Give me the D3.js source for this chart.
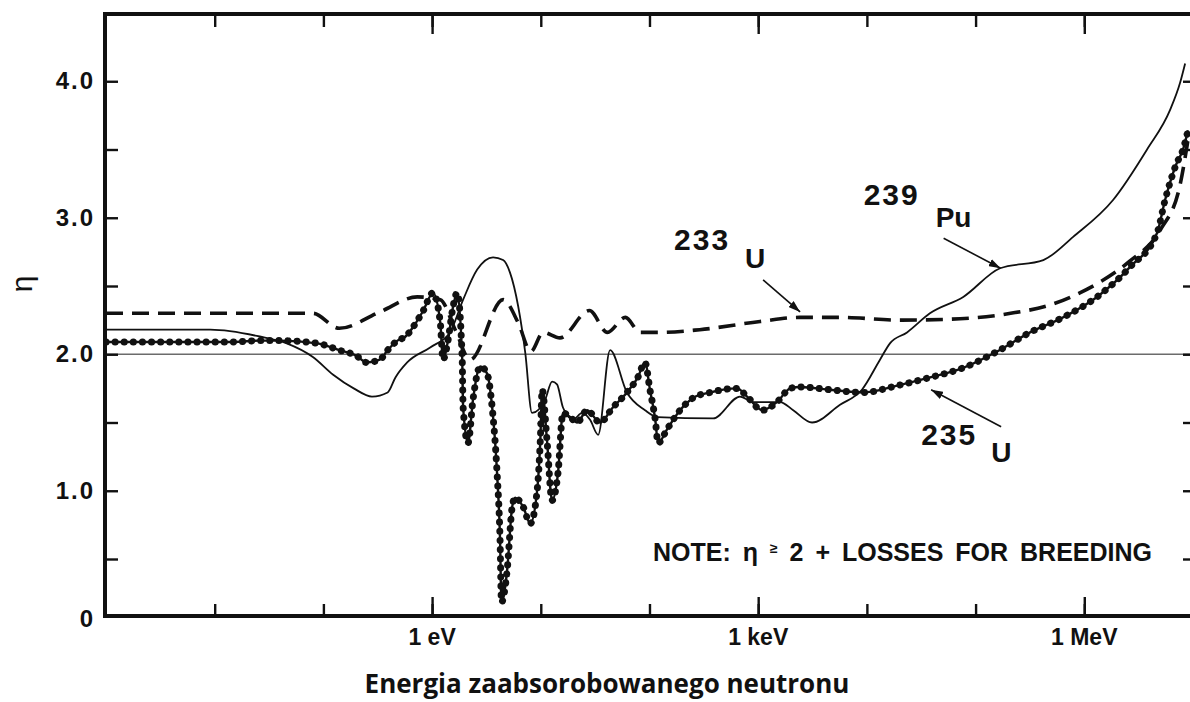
<!DOCTYPE html>
<html>
<head>
<meta charset="utf-8">
<script src="https://cdn.jsdelivr.net/npm/d3@7"></script>
<style>
    body { margin: 0; background: #fff; }
    svg { display: block; }
    .lbl { font-family: "Liberation Sans", Arial, sans-serif; fill: #111; }
</style>
</head>
<body>
<svg id="chart" width="1190" height="702"></svg>
<script>
// energy of the absorbed neutron (eV) and eta
let u233Energy = [0.001, 0.08, 0.14, 0.33, 0.73, 1.19, 1.63, 2.24, 4.5, 6.2, 8.1, 10.5, 15, 28, 41, 60, 82, 125, 290,
    1040, 2400, 5700, 20000, 72000, 2.1e5, 4.8e5, 9.1e5, 1.4e6, 2.6e6, 5.0e6, 7.6e6, 9.0e6];
let u233Eta = [2.30, 2.30, 2.19, 2.31, 2.42, 2.40, 2.18, 1.96, 2.40, 2.23, 2.02, 2.16, 2.12, 2.32, 2.16, 2.27, 2.16, 2.16, 2.18,
    2.24, 2.27, 2.27, 2.25, 2.26, 2.30, 2.36, 2.45, 2.53, 2.68, 2.91, 3.24, 3.57];

let pu239Energy = [0.001, 0.0091, 0.026, 0.046, 0.080, 0.123, 0.19, 0.28, 0.39, 0.46, 0.59, 0.96, 1.46, 1.93, 2.6, 3.64,
    4.5, 5.2, 6.2, 7.2, 8.3, 11.0, 12.7, 14.1, 16.0, 19.8, 24, 28.4, 33.7, 43.4, 62, 91, 118, 385, 680, 900, 1590, 2100,
    3130, 5660, 9000, 13200, 16300, 23400, 38000, 77000, 1.68e5, 4.2e5, 7.9e5, 1.84e6, 3.78e6, 6.16e6, 7.62e6, 8.47e6];
let pu239Eta = [2.18, 2.18, 2.13, 2.08, 1.98, 1.85, 1.75, 1.69, 1.72, 1.83, 1.94, 2.05, 2.16, 2.40, 2.62, 2.71,
    2.69, 2.60, 2.35, 2.01, 1.57, 1.67, 1.80, 1.78, 1.61, 1.52, 1.57, 1.52, 1.41, 2.03, 1.72, 1.59, 1.54, 1.53, 1.69, 1.65, 1.65, 1.59,
    1.50, 1.63, 1.74, 1.96, 2.08, 2.16, 2.30, 2.42, 2.63, 2.69, 2.86, 3.13, 3.50, 3.79, 3.99, 4.13];

let u235Energy = [0.001, 0.0148, 0.026, 0.040, 0.088, 0.14, 0.20, 0.25, 0.33, 0.39, 0.48, 0.57, 0.67, 0.83, 1.02, 1.19,
    1.26, 1.40, 1.56, 1.70, 1.89, 1.93, 2.14, 2.38, 2.77, 3.2, 3.57, 3.96, 4.22, 4.35, 4.9, 5.45, 5.8, 6.9, 8.0, 9.25, 9.9,
    10.3, 11.4, 12.7, 14.4, 16.0, 18.6, 21.6, 26.7, 35, 46, 62, 78, 91, 101, 113, 120, 145, 191, 252, 361, 640, 790, 1090,
    1490, 1970, 2430, 4590, 9230, 18950, 38100, 76700, 1.58e5, 3.17e5, 6.38e5, 1.31e6, 2.64e6, 4.68e6, 5.54e6, 7.0e6, 8.1e6, 9.0e6];
let u235Eta = [2.09, 2.09, 2.10, 2.10, 2.08, 2.03, 1.99, 1.94, 1.96, 2.03, 2.10, 2.13, 2.20, 2.32, 2.45, 2.23,
    1.96, 2.10, 2.35, 2.45, 1.98, 1.61, 1.35, 1.67, 1.91, 1.86, 1.61, 1.13, 0.64, 0.12, 0.40, 0.88, 0.95, 0.88, 0.76, 1.00, 1.37,
    1.74, 1.37, 0.93, 1.13, 1.57, 1.54, 1.50, 1.59, 1.50, 1.61, 1.72, 1.83, 1.94, 1.74, 1.52, 1.35, 1.45, 1.59, 1.68, 1.72, 1.75, 1.69, 1.59,
    1.65, 1.75, 1.76, 1.74, 1.72, 1.77, 1.83, 1.90, 2.02, 2.16, 2.27, 2.42, 2.64, 2.89, 3.13, 3.39, 3.50, 3.64];

let xTicks = [1e-2, 1e-1, 1, 10, 100, 1e3, 1e4, 1e5, 1e6];
let xMajorTicks = [1, 1e3, 1e6];
let xLabels = ["1 eV", "1 keV", "1 MeV"];
let yMinorTicks = [0.5, 1.5, 2.5, 3.5];
let yMajorTicks = [1.0, 2.0, 3.0, 4.0];
let yLabelValues = [0, 1.0, 2.0, 3.0, 4.0];
let yLabels = ["0", "1.0", "2.0", "3.0", "4.0"];
let breedingLimit = 2.0;

let svg = d3.select("#chart");

let plotLeft = 105, plotRight = 1193, plotTop = 14, plotBottom = 616;

let x = d3.scaleLog().domain([1e-3, 9e6]).range([106, 1188]);
// scan is slightly stretched near zero, so the scale has a knot at 0.5
let y = d3.scaleLinear().domain([0, 0.5, 4.5]).range([plotBottom, 559, 13]);

svg.append("rect").attr("width", 1190).attr("height", 702).attr("fill", "#fff");

let defs = svg.append("defs");
defs.append("clipPath").attr("id", "plotClip")
    .append("rect").attr("x", plotLeft).attr("y", plotTop)
    .attr("width", plotRight - plotLeft).attr("height", plotBottom - plotTop);
defs.append("marker").attr("id", "arrow")
    .attr("viewBox", "0 0 12 8").attr("refX", 12).attr("refY", 4)
    .attr("markerWidth", 12).attr("markerHeight", 8).attr("markerUnits", "userSpaceOnUse")
    .attr("orient", "auto")
    .append("path").attr("d", "M0,0 L12,4 L0,8 Z").attr("fill", "#111");

// reference line eta = 2
svg.append("line")
    .attr("x1", plotLeft).attr("x2", plotRight)
    .attr("y1", y(breedingLimit)).attr("y2", y(breedingLimit))
    .attr("stroke", "#6b6b6b").attr("stroke-width", 1.6);

// ticks, all pointing into the frame
function tickStyle(g) {
    g.select(".domain").remove();
    g.selectAll(".tick line").attr("stroke", "#111").attr("stroke-width", 2.4);
    g.selectAll(".tick text").remove();
}
svg.append("g").attr("transform", "translate(0," + plotBottom + ")")
    .call(d3.axisTop(x).tickValues(xTicks).tickSize(12)).call(tickStyle);
svg.append("g").attr("transform", "translate(0," + plotBottom + ")")
    .call(d3.axisTop(x).tickValues(xMajorTicks).tickSize(19)).call(tickStyle);
svg.append("g").attr("transform", "translate(0," + plotTop + ")")
    .call(d3.axisBottom(x).tickValues(xTicks).tickSize(13)).call(tickStyle);
svg.append("g").attr("transform", "translate(0," + plotTop + ")")
    .call(d3.axisBottom(x).tickValues(xMajorTicks).tickSize(20)).call(tickStyle);
svg.append("g").attr("transform", "translate(" + plotLeft + ",0)")
    .call(d3.axisRight(y).tickValues(yMinorTicks.concat(yMajorTicks)).tickSize(13)).call(tickStyle);
svg.append("g").attr("transform", "translate(" + plotRight + ",0)")
    .call(d3.axisLeft(y).tickValues(yMinorTicks.concat(yMajorTicks)).tickSize(10)).call(tickStyle);

// curves
let line = d3.line()
    .x(d => x(d[0]))
    .y(d => y(d[1]))
    .curve(d3.curveMonotoneX);

let plot = svg.append("g").attr("clip-path", "url(#plotClip)");

plot.append("path").datum(d3.zip(u233Energy, u233Eta))
    .attr("d", line).attr("fill", "none")
    .attr("stroke", "#111").attr("stroke-width", 3.6)
    .attr("stroke-dasharray", "17 9");

plot.append("path").datum(d3.zip(pu239Energy, pu239Eta))
    .attr("d", line).attr("fill", "none")
    .attr("stroke", "#111").attr("stroke-width", 1.8);

let u235 = d3.zip(u235Energy, u235Eta);
plot.append("path").datum(u235)
    .attr("d", line).attr("fill", "none")
    .attr("stroke", "#111").attr("stroke-width", 2.4);
plot.append("path").datum(u235)
    .attr("d", line).attr("fill", "none")
    .attr("stroke", "#111").attr("stroke-width", 7)
    .attr("stroke-linecap", "round")
    .attr("stroke-dasharray", "0.1 9");

// frame
svg.append("rect")
    .attr("x", plotLeft).attr("y", plotTop)
    .attr("width", plotRight - plotLeft).attr("height", plotBottom - plotTop)
    .attr("fill", "none").attr("stroke", "#111").attr("stroke-width", 4);

// tick labels
svg.selectAll(".ylab").data(yLabelValues).enter().append("text")
    .attr("class", "lbl ylab")
    .attr("x", 95).attr("y", (d, i) => y(d) + (i === 0 ? 11 : 8))
    .attr("text-anchor", "end")
    .style("font-size", "24px").style("font-weight", "bold").style("letter-spacing", "2px")
    .text((d, i) => yLabels[i]);

svg.selectAll(".xlab").data(xMajorTicks).enter().append("text")
    .attr("class", "lbl xlab")
    .attr("x", d => x(d)).attr("y", plotBottom + 29)
    .attr("text-anchor", "middle")
    .style("font-size", "23px").style("font-weight", "bold")
    .text((d, i) => xLabels[i]);

svg.append("text").attr("class", "lbl")
    .attr("transform", "translate(32,284) rotate(-90)")
    .attr("text-anchor", "middle")
    .style("font-size", "30px")
    .text("η");

svg.append("text")
    .attr("x", 607).attr("y", 693)
    .attr("text-anchor", "middle")
    .style("font-family", "'Open Sans', sans-serif").style("font-weight", "bold").style("font-size", "26px")
    .style("fill", "#111")
    .text("Energia zaabsorobowanego neutronu");

// note
let note = svg.append("text").attr("class", "lbl")
    .attr("x", 1152).attr("y", 561).attr("text-anchor", "end")
    .style("font-size", "25px").style("font-weight", "bold").style("word-spacing", "5px");
note.append("tspan").text("NOTE:  η ");
note.append("tspan").attr("dy", -8).style("font-size", "14px").text("≥");
note.append("tspan").attr("dy", 8).text(" 2 + LOSSES FOR BREEDING");

// isotope labels with arrows; tip sits on the curve, rest is offset in pixels
let isotopeNames = ["233", "239", "235"];
let isotopeSymbols = ["U", "Pu", "U"];
let tipEnergy = [2430, 1.7e5, 3.9e4];
let tipEta = [2.31, 2.63, 1.74];

let notes = [
    {tail: [-37, -32], num: [-126, -62], sym: [-55, -44]},
    {tail: [-57, -30], num: [-137, -63], sym: [-65, -41]},
    {tail: [70, 37], num: [-10, 55], sym: [60, 72]}
];

notes.forEach(function (n, i) {
    let tx = x(tipEnergy[i]), ty = y(tipEta[i]);
    svg.append("line")
        .attr("x1", tx + n.tail[0]).attr("y1", ty + n.tail[1])
        .attr("x2", tx).attr("y2", ty)
        .attr("stroke", "#111").attr("stroke-width", 1.6)
        .attr("marker-end", "url(#arrow)");
    svg.append("text").attr("class", "lbl")
        .attr("x", tx + n.num[0]).attr("y", ty + n.num[1])
        .style("font-size", "30px").style("font-weight", "bold").style("letter-spacing", "2px")
        .text(isotopeNames[i]);
    svg.append("text").attr("class", "lbl")
        .attr("x", tx + n.sym[0]).attr("y", ty + n.sym[1])
        .style("font-size", "28px").style("font-weight", "bold")
        .text(isotopeSymbols[i]);
});
</script>
</body>
</html>
